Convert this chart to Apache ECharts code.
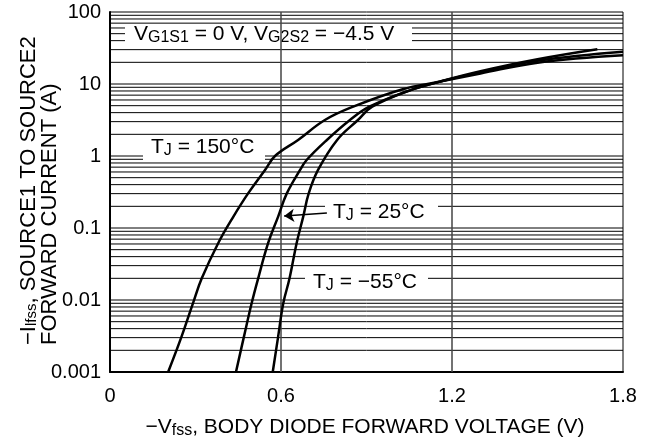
<!DOCTYPE html>
<html>
<head>
<meta charset="utf-8">
<script src="https://cdn.jsdelivr.net/npm/echarts@6/dist/echarts.min.js"></script>
<style>
  html, body { margin: 0; padding: 0; background: #fff; }
  #chart { width: 650px; height: 446px; }
</style>
</head>
<body>
<div id="chart"></div>
<script>
// curves: [voltage V, current A]
var tj150 = [[0.204, 0.001], [0.251, 0.0031], [0.291, 0.009], [0.322, 0.02], [0.380, 0.062],
  [0.433, 0.144], [0.484, 0.30], [0.544, 0.64], [0.579, 1.0], [0.66, 1.67], [0.754, 3.16],
  [0.853, 4.84], [1.024, 8.4], [1.158, 10.8], [1.3, 14.0], [1.5, 19.8], [1.8, 25]];
var tj25 = [[0.442, 0.001], [0.470, 0.0031], [0.497, 0.009], [0.52, 0.02], [0.555, 0.062],
  [0.59, 0.144], [0.62, 0.30], [0.667, 0.64], [0.69, 0.88], [0.761, 1.67], [0.842, 3.16],
  [0.91, 4.84], [1.05, 8.1], [1.158, 10.8], [1.3, 14.5], [1.5, 21], [1.8, 28]];
var tjm55 = [[0.571, 0.001], [0.590, 0.0031], [0.608, 0.009], [0.63, 0.02], [0.655, 0.062],
  [0.678, 0.144], [0.697, 0.30], [0.73, 0.64], [0.797, 1.67], [0.87, 3.16], [0.92, 4.84],
  [1.05, 8.1], [1.158, 10.8], [1.3, 15.0], [1.5, 22], [1.71, 30.3]];

var xTicks = ["0", "0.6", "1.2", "1.8"];
var yTicks = ["0.001", "0.01", "0.1", "1", "10", "100"];
var vLines = [0.6, 1.2];
var decades = [0.001, 0.01, 0.1, 1, 10];
var arrow25 = [[0.761, 0.161], [0.611, 0.147]];

// log grid: 1..9 in every decade
var hGrid = [];
decades.forEach(function (d) {
  for (var m = 1; m <= 9; m++) {
    hGrid.push([0, m * d], [1.8, m * d], '-');
  }
});
var vGrid = [];
vLines.forEach(function (v) {
  vGrid.push([v, 0.001], [v, 100], '-');
});

var font = '"Liberation Sans", Arial, Helvetica, sans-serif';
var rich = {
  n: { fontSize: 21, fontFamily: font, color: '#000', lineHeight: 24 },
  s: { fontSize: 16, fontFamily: font, color: '#000', lineHeight: 10, verticalAlign: 'bottom' }
};
var richY = {
  n: { fontSize: 22, fontFamily: font, color: '#000', lineHeight: 21 },
  s: { fontSize: 15, fontFamily: font, color: '#000', lineHeight: 10, verticalAlign: 'bottom' }
};

function box(x, y, w, h) {
  return { type: 'rect', z: 3, silent: true, shape: { x: x, y: y, width: w, height: h }, style: { fill: '#fff' } };
}
function label(x, y, text) {
  return {
    type: 'text', z: 3, silent: true, x: x, y: y,
    style: { text: text, rich: rich, textAlign: 'left', textVerticalAlign: 'middle' }
  };
}

var chart = echarts.init(document.getElementById('chart'));
var option = {
  animation: false,
  grid: { left: 110, top: 12, width: 513, height: 360, show: true, borderColor: '#000', borderWidth: 1 },
  xAxis: {
    type: 'value', min: 0, max: 1.8, interval: 0.6,
    axisLine: { lineStyle: { color: '#000', width: 2 } },
    axisTick: { show: false },
    splitLine: { show: false },
    axisLabel: {
      margin: 14, fontSize: 20, fontFamily: font, color: '#000',
      formatter: function (v) { return xTicks[Math.round(v / 0.6)]; }
    }
  },
  yAxis: {
    type: 'log', logBase: 10, min: 0.001, max: 100,
    axisLine: { show: true, lineStyle: { color: '#000', width: 2 } },
    axisTick: { show: false },
    splitLine: { show: false },
    axisLabel: {
      margin: 9, fontSize: 20, fontFamily: font, color: '#000',
      formatter: function (v) { return yTicks[Math.round(Math.log10(v)) + 3]; }
    }
  },
  graphic: [
    box(125, 25, 287, 21),
    label(134, 34, '{n|V}{s|G1S1}{n| = 0 V, V}{s|G2S2}{n| = \u22124.5 V}'),
    box(143, 136, 122, 24),
    label(151, 147, '{n|T}{s|J}{n| = 150\u00b0C}'),
    box(325, 200, 113, 26),
    label(333, 212, '{n|T}{s|J}{n| = 25\u00b0C}'),
    box(305, 272, 123, 22),
    label(313, 282, '{n|T}{s|J}{n| = \u221255\u00b0C}'),
    {
      type: 'text', z: 3, silent: true, x: 39, y: 345, rotation: Math.PI / 2,
      style: {
        text: '{n|\u2212I}{s|lfss}{n|, SOURCE1 TO SOURCE2}\n{n|FORWARD CURRENT (A)}',
        rich: richY, textAlign: 'left', textVerticalAlign: 'middle'
      }
    },
    {
      type: 'text', z: 3, silent: true, x: 365, y: 427,
      style: {
        text: '{n|\u2212V}{s|fss}{n|, BODY DIODE FORWARD VOLTAGE (V)}',
        rich: rich, textAlign: 'center', textVerticalAlign: 'middle'
      }
    }
  ],
  series: [
    {
      name: 'hgrid', type: 'line', z: 1, silent: true, symbol: 'none',
      lineStyle: { color: '#000', width: 1 }, data: hGrid
    },
    {
      name: 'vgrid', type: 'line', z: 4, silent: true, symbol: 'none',
      lineStyle: { color: '#444', width: 1.5 }, data: vGrid
    },
    {
      name: 'TJ = 150°C', type: 'line', z: 5, symbol: 'none', smooth: 0.4,
      lineStyle: { color: '#000', width: 2.5 }, data: tj150
    },
    {
      name: 'TJ = 25°C', type: 'line', z: 5, symbol: 'none', smooth: 0.4,
      lineStyle: { color: '#000', width: 2.5 }, data: tj25,
      markLine: {
        silent: true, symbol: ['none', 'arrow'], symbolSize: 10,
        label: { show: false },
        lineStyle: { color: '#000', width: 1.5, type: 'solid' },
        data: [[{ coord: arrow25[0] }, { coord: arrow25[1] }]]
      }
    },
    {
      name: 'TJ = -55°C', type: 'line', z: 5, symbol: 'none', smooth: 0.4,
      lineStyle: { color: '#000', width: 2.5 }, data: tjm55
    }
  ]
};
chart.setOption(option);
window.addEventListener('resize', function () { chart.resize(); });
</script>
</body>
</html>
